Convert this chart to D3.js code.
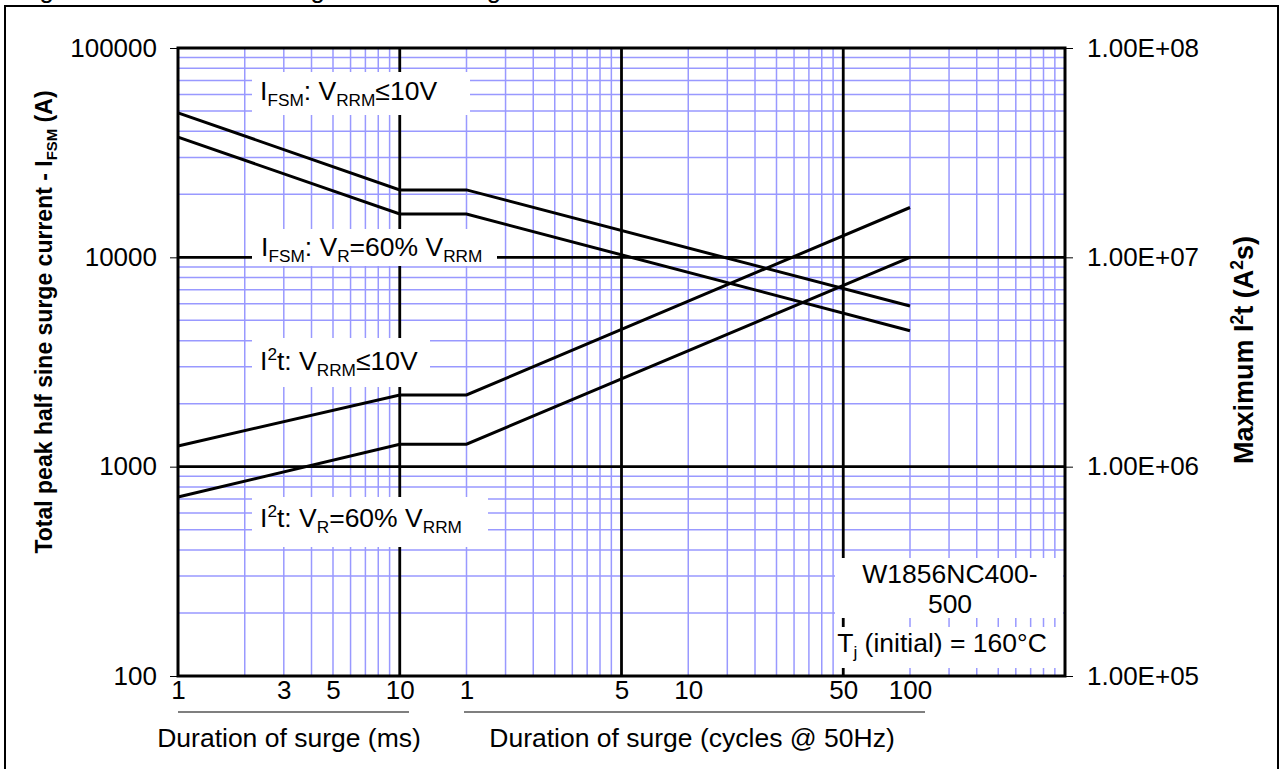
<!DOCTYPE html>
<html>
<head>
<meta charset="utf-8">
<script src="https://cdn.jsdelivr.net/npm/d3@7"></script>
<style>
  body { margin: 0; background: #fff; }
  svg { display: block; font-family: "Liberation Sans", Arial, sans-serif; }
</style>
</head>
<body>
<svg id="chart" width="1283" height="769"></svg>
<script>
// surge duration in ms (1 cycle @ 50Hz = 20 ms)
const timeMs = [1, 10, 20, 2000];
// peak surge current (A)
const ifsmLowV = [49000, 21000, 21000, 5850];   // VRRM <= 10V
const ifsm60 = [37500, 16100, 16100, 4460];     // VR = 60% VRRM
// I2t (A2s)
const i2tLowV = [1.255e6, 2.2e6, 2.2e6, 1.73e7];
const i2t60 = [7.16e5, 1.28e6, 1.28e6, 1.0e7];

const xTickValues = [1, 3, 5, 10, 20, 100, 200, 1000, 2000];
const xTickLabels = ["1", "3", "5", "10", "1", "5", "10", "50", "100"];
const yLeftTicks = [100, 1000, 10000, 100000];
const yRightTicks = [1e5, 1e6, 1e7, 1e8];
const yRightLabels = ["1.00E+05", "1.00E+06", "1.00E+07", "1.00E+08"];

var margin = {left: 178, right: 1065, top: 48, bottom: 676};

var svg = d3.select("#chart");

var x = d3.scaleLog().domain([1, 10000]).range([margin.left, margin.right]);
var yL = d3.scaleLog().domain([100, 100000]).range([margin.bottom, margin.top]);
var yR = d3.scaleLog().domain([1e5, 1e8]).range([margin.bottom, margin.top]);

// outer border + cut-off figure title
svg.append("rect")
  .attr("x", 5).attr("y", 6).attr("width", 1273).attr("height", 800)
  .attr("fill", "none").attr("stroke", "#000").attr("stroke-width", 2);
svg.append("text")
  .attr("x", 18).attr("y", -2.5)
  .style("font-size", "25.8px")
  .text("Figure 12 – Maximum surge and I²t Ratings");

// minor grid (2..9 per decade)
var minorX = [], minorY = [];
for (var d = 1; d <= 1000; d *= 10)
  for (var k = 2; k <= 9; k++) minorX.push(d * k);
for (var d = 100; d <= 10000; d *= 10)
  for (var k = 2; k <= 9; k++) minorY.push(d * k);

var grid = svg.append("g");
grid.selectAll(".gx").data(minorX).enter().append("line")
  .attr("x1", d => x(d)).attr("x2", d => x(d))
  .attr("y1", margin.top).attr("y2", margin.bottom)
  .attr("stroke", "#9999ff").attr("stroke-width", 1.5);
grid.selectAll(".gy").data(minorY).enter().append("line")
  .attr("y1", d => yL(d)).attr("y2", d => yL(d))
  .attr("x1", margin.left).attr("x2", margin.right)
  .attr("stroke", "#9999ff").attr("stroke-width", 1.5);

// major decade lines
grid.selectAll(".mx").data([10, 100, 1000]).enter().append("line")
  .attr("x1", d => x(d)).attr("x2", d => x(d))
  .attr("y1", margin.top).attr("y2", margin.bottom)
  .attr("stroke", "#000").attr("stroke-width", 2.8);
grid.selectAll(".my").data([1000, 10000]).enter().append("line")
  .attr("y1", d => yL(d)).attr("y2", d => yL(d))
  .attr("x1", margin.left).attr("x2", margin.right)
  .attr("stroke", "#000").attr("stroke-width", 2.8);

// curves
var lineL = d3.line().x((d, i) => x(timeMs[i])).y(d => yL(d));
var lineR = d3.line().x((d, i) => x(timeMs[i])).y(d => yR(d));
[ifsmLowV, ifsm60].forEach(s => {
  svg.append("path").attr("d", lineL(s))
    .attr("fill", "none").attr("stroke", "#000").attr("stroke-width", 3);
});
[i2tLowV, i2t60].forEach(s => {
  svg.append("path").attr("d", lineR(s))
    .attr("fill", "none").attr("stroke", "#000").attr("stroke-width", 3);
});

// text with sub/superscripts
function richText(g, xPos, yPos, parts, size, anchor) {
  var t = g.append("text").attr("x", xPos).attr("y", yPos)
    .style("font-size", size + "px").attr("text-anchor", anchor || "start");
  var shift = 0;
  parts.forEach(p => {
    var s = typeof p === "string" ? {t: p} : p;
    var target = s.sub ? size * 0.22 : s.sup ? -size * 0.38 : 0;
    t.append("tspan")
      .attr("dy", target - shift)
      .style("font-size", (s.sub || s.sup ? size * 0.65 : size) + "px")
      .text(s.t);
    shift = target;
  });
  return t;
}

function labelBox(bx, by, bw, bh) {
  svg.append("rect").attr("x", bx).attr("y", by).attr("width", bw).attr("height", bh)
    .attr("fill", "#fff");
}

labelBox(252, 72, 218, 43);
richText(svg, 260, 100, ["I", {t: "FSM", sub: 1}, ": V", {t: "RRM", sub: 1}, "≤10V"], 26.5);
labelBox(252, 229, 245, 37);
richText(svg, 261, 256, ["I", {t: "FSM", sub: 1}, ": V", {t: "R", sub: 1}, "=60% V", {t: "RRM", sub: 1}], 26.5);
labelBox(252, 338, 178, 49);
richText(svg, 260, 370, ["I", {t: "2", sup: 1}, "t: V", {t: "RRM", sub: 1}, "≤10V"], 26.5);
labelBox(252, 497, 236, 50);
richText(svg, 260, 527, ["I", {t: "2", sup: 1}, "t: V", {t: "R", sub: 1}, "=60% V", {t: "RRM", sub: 1}], 26.5);

labelBox(835, 558, 228, 60);
svg.append("text").attr("x", 950).attr("y", 583).attr("text-anchor", "middle")
  .style("font-size", "26.5px").text("W1856NC400-");
svg.append("text").attr("x", 950).attr("y", 613).attr("text-anchor", "middle")
  .style("font-size", "26.5px").text("500");
labelBox(835, 627, 228, 41);
richText(svg, 942, 652, ["T", {t: "j", sub: 1}, " (initial) = 160°C"], 26.5, "middle");

// plot frame
svg.append("rect")
  .attr("x", margin.left).attr("y", margin.top)
  .attr("width", margin.right - margin.left).attr("height", margin.bottom - margin.top)
  .attr("fill", "none").attr("stroke", "#000").attr("stroke-width", 3);

// axes
var axL = svg.append("g").attr("transform", "translate(" + margin.left + ",0)")
  .call(d3.axisLeft(yL).tickValues(yLeftTicks).tickFormat(d3.format("d")).tickSize(8).tickPadding(13));
var axR = svg.append("g").attr("transform", "translate(" + margin.right + ",0)")
  .call(d3.axisRight(yR).tickValues(yRightTicks).tickFormat((d, i) => yRightLabels[i]).tickSize(8).tickPadding(14));
var axB = svg.append("g").attr("transform", "translate(0," + margin.bottom + ")")
  .call(d3.axisBottom(x).tickValues(xTickValues).tickFormat((d, i) => xTickLabels[i]).tickSize(0).tickPadding(5));
[axL, axR, axB].forEach(a => {
  a.select(".domain").remove();
  a.selectAll("text").style("font-size", "26px").style("font-family", "Liberation Sans, Arial, sans-serif").attr("fill", "#000");
  a.selectAll("line").attr("stroke", "#000");
});

// x axis brackets and titles
svg.append("line").attr("x1", 178).attr("x2", 409).attr("y1", 712).attr("y2", 712)
  .attr("stroke", "#555").attr("stroke-width", 1.5);
svg.append("line").attr("x1", 464).attr("x2", 925).attr("y1", 712).attr("y2", 712)
  .attr("stroke", "#555").attr("stroke-width", 1.5);
svg.append("text").attr("x", 289).attr("y", 747).attr("text-anchor", "middle")
  .style("font-size", "26.5px").text("Duration of surge (ms)");
svg.append("text").attr("x", 692).attr("y", 747).attr("text-anchor", "middle")
  .style("font-size", "26.5px").text("Duration of surge (cycles @ 50Hz)");

// y axis titles
var tl = richText(svg.append("g").attr("transform", "translate(52,322) rotate(-90)"), 0, 0,
  ["Total peak half sine surge current - I", {t: "FSM", sub: 1}, " (A)"], 23, "middle");
tl.style("font-weight", "bold");
var tr = richText(svg.append("g").attr("transform", "translate(1253,350) rotate(-90)"), 0, 0,
  ["Maximum I", {t: "2", sup: 1}, "t (A", {t: "2", sup: 1}, "s)"], 27, "middle");
tr.style("font-weight", "bold");
</script>
</body>
</html>
